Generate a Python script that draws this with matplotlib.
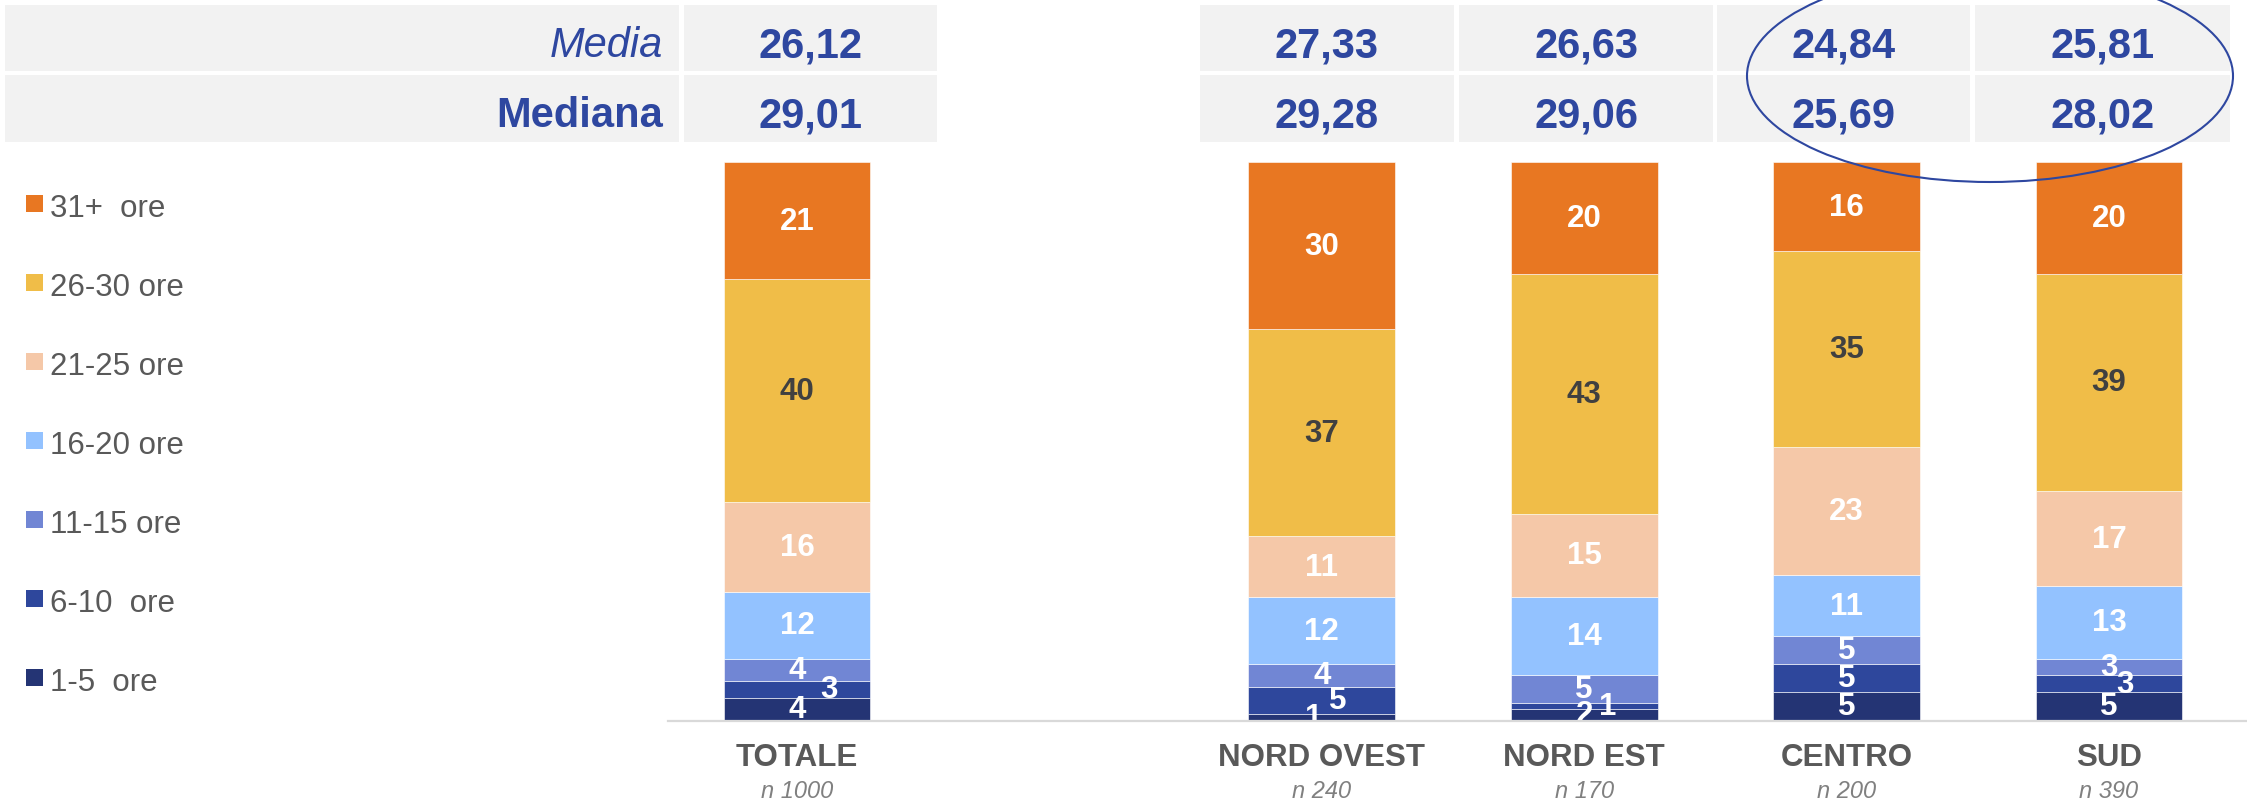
import matplotlib.pyplot as plt
from matplotlib.patches import Rectangle, Ellipse

plt.rcParams['font.family'] = ['Liberation Sans', 'DejaVu Sans']

# dati
aree = ['TOTALE', 'NORD OVEST', 'NORD EST', 'CENTRO', 'SUD']
campioni = ['n 1000', 'n 240', 'n 170', 'n 200', 'n 390']
fasce = ['1-5  ore', '6-10  ore', '11-15 ore', '16-20 ore', '21-25 ore', '26-30 ore', '31+  ore']
ore_1_5 = [4, 1, 2, 5, 5]
ore_6_10 = [3, 5, 1, 5, 3]
ore_11_15 = [4, 4, 5, 5, 3]
ore_16_20 = [12, 12, 14, 11, 13]
ore_21_25 = [16, 11, 15, 23, 17]
ore_26_30 = [40, 37, 43, 35, 39]
ore_31 = [21, 30, 20, 16, 20]
media = ['26,12', '27,33', '26,63', '24,84', '25,81']
mediana = ['29,01', '29,28', '29,06', '25,69', '28,02']

serie = [ore_1_5, ore_6_10, ore_11_15, ore_16_20, ore_21_25, ore_26_30, ore_31]
colori = ['#243474', '#2E479C', '#7186D4', '#93C2FF', '#F5C8A8', '#F0BD48', '#E87722']
col_testo = ['white', 'white', 'white', 'white', 'white', '#404040', 'white']
blu = '#2E47A0'

pos = [0, 2, 3, 4, 5]
# spostamenti delle etichette piccole (fascia, area) -> dx
dx = {(1, 0): 0.12, (0, 1): -0.03, (1, 1): 0.06, (1, 2): 0.09, (1, 4): 0.06}

fig = plt.figure(figsize=(22.47, 8.03), dpi=100)
ax = fig.add_axes([0, 0.10212, 1, 0.69489])
ax.set_xlim(-3.0373, 5.5259)
ax.set_ylim(0, 100)
ax.axis('off')

base = [0] * len(aree)
for k in range(len(serie)):
    vals = serie[k]
    ax.bar(pos, vals, 0.56, bottom=base, color=colori[k], edgecolor='white', linewidth=0.4)
    for i in range(len(aree)):
        yc = base[i] + vals[i] / 2.0
        ax.text(pos[i] + dx.get((k, i), 0), yc, str(vals[i]), ha='center', va='center',
                fontsize=22.5, fontweight='bold', color=col_testo[k], clip_on=False)
    base = [base[i] + vals[i] for i in range(len(aree))]

for i in range(len(aree)):
    ax.text(pos[i], -6.7, aree[i], ha='center', va='center', fontsize=22.5,
            fontweight='bold', color='#595959', clip_on=False)
    ax.text(pos[i], -12.6, campioni[i], ha='center', va='center', fontsize=17,
            style='italic', color='#808080', clip_on=False)

# tabella in alto, legenda e linea di base (coordinate in pixel)
ov = fig.add_axes([0, 0, 1, 1])
ov.set_xlim(0, 2247)
ov.set_ylim(803, 0)
ov.axis('off')

ov.plot([668, 2247], [722, 722], color='#D9D9D9', lw=1.6)

righe = [(6, 72, 57), (76, 143, 127)]
celle = [(684, 937), (1200, 1454), (1459, 1713), (1717, 1970), (1975, 2230)]
for r, (y0, y1, yb) in enumerate(righe):
    ov.add_patch(Rectangle((5, y0), 674, y1 - y0, color='#F2F2F2', lw=0))
    valori = media if r == 0 else mediana
    for i, (x0, x1) in enumerate(celle):
        ov.add_patch(Rectangle((x0, y0), x1 - x0, y1 - y0, color='#F2F2F2', lw=0))
        ov.text((x0 + x1) / 2.0, yb, valori[i], ha='center', va='baseline',
                fontsize=30, fontweight='bold', color=blu)
ov.text(663, 57, 'Media', ha='right', va='baseline', fontsize=30, style='italic', color=blu)
ov.text(663, 127, 'Mediana', ha='right', va='baseline', fontsize=30, fontweight='bold', color=blu)

ov.add_patch(Ellipse((1990, 77), 486, 212, fill=False, edgecolor=blu, lw=1.5))

for k in range(len(fasce)):
    j = len(fasce) - 1 - k
    yb = 217 + 79 * k
    ov.add_patch(Rectangle((26, yb - 21), 17, 17, color=colori[j], lw=0))
    ov.text(50, yb, fasce[j], ha='left', va='baseline', fontsize=22.5, color='#595959')

plt.savefig('out.png', dpi=100)
